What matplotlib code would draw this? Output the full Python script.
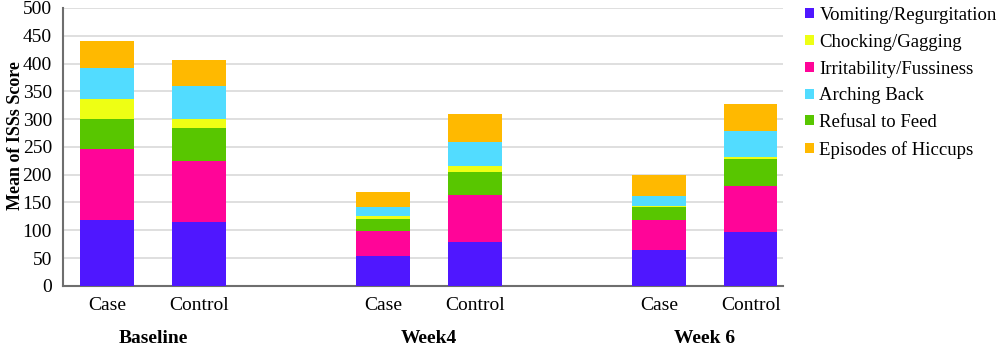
import matplotlib
matplotlib.use("Agg")
import matplotlib.pyplot as plt
import matplotlib.transforms as mtransforms
import numpy as np

plt.rcParams['font.family'] = ['Liberation Serif', 'DejaVu Serif']

groups = ["Baseline", "Week4", "Week 6"]
bar_labels = ["Case", "Control", "Case", "Control", "Case", "Control"]
series_names = ["Vomiting/Regurgitation", "Irritability/Fussiness", "Refusal to Feed",
                "Chocking/Gagging", "Arching Back", "Episodes of Hiccups"]
vomiting = [118, 114, 54, 78, 65, 96]
irritability = [129, 111, 45, 85, 53, 84]
refusal = [53, 59, 21, 42, 24, 49]
chocking = [36, 16, 5, 10, 2, 3]
arching = [56, 60, 16, 44, 18, 46]
hiccups = [48, 46, 27, 50, 37, 50]
colors = ["#4F17FF", "#FF0598", "#58C600", "#EEFF14", "#52DCFF", "#FFB900"]
legend_order = [0, 3, 1, 4, 2, 5]

series = [vomiting, irritability, refusal, chocking, arching, hiccups]
positions = np.array([0, 1, 3, 4, 6, 7], dtype=float)

fig = plt.figure(figsize=(10, 3.46), dpi=100)
ax = fig.add_axes([0.063, 0.174, 0.72, 0.803])

bottom = np.zeros(len(positions))
handles = []
for vals, col, name in zip(series, colors, series_names):
    h = ax.bar(positions, vals, 0.58, bottom=bottom, color=col, label=name, zorder=3)
    handles.append(h)
    bottom += np.array(vals)

ax.set_xlim(-0.48, 7.35)
ax.set_ylim(0, 500)
ax.set_yticks(np.arange(0, 501, 50))
ax.yaxis.grid(True, color="#d9d9d9", linewidth=1.2, zorder=0)
ax.set_axisbelow(True)
for s in ["top", "right"]:
    ax.spines[s].set_visible(False)
for s in ["left", "bottom"]:
    ax.spines[s].set_color("#6e6e6e")
    ax.spines[s].set_linewidth(1.5)
ax.tick_params(axis="y", length=0, labelsize=14, pad=8)
ax.tick_params(axis="x", length=0, labelsize=14, pad=8)
ax.set_xticks(positions)
ax.set_xticklabels(bar_labels)
ax.set_ylabel("Mean of ISSs Score", fontsize=13, fontweight="bold")
ax.yaxis.set_label_coords(-0.054, 0.54)

trans = mtransforms.blended_transform_factory(ax.transData, ax.transAxes)
for i, g in enumerate(groups):
    xc = (positions[2 * i] + positions[2 * i + 1]) / 2
    ax.text(xc, -0.19, g, transform=trans, ha="center", va="center",
            fontsize=14, fontweight="bold")

leg = fig.legend([handles[i] for i in legend_order], [series_names[i] for i in legend_order],
                 loc="upper left", bbox_to_anchor=(0.794, 1.012), frameon=False,
                 fontsize=13.5, handlelength=0.45, handleheight=0.45, handletextpad=0.3,
                 labelspacing=0.52, borderaxespad=0.2)

fig.savefig("out.png", dpi=100)
